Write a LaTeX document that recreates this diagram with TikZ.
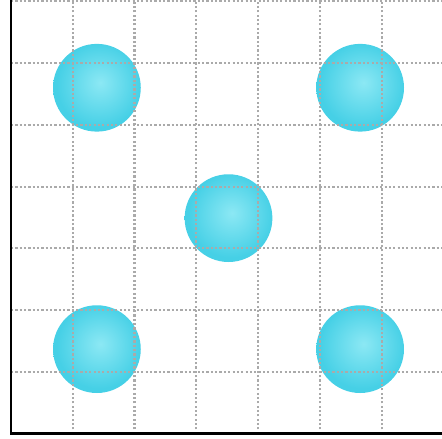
\documentclass[tikz,border=0pt]{standalone}
\usepackage{tikz}
\definecolor{balllight}{RGB}{140,232,244}
\definecolor{ballmid}{RGB}{70,208,230}
\definecolor{balldark}{RGB}{50,182,212}
\definecolor{gridgray}{RGB}{170,170,170}
\pgfdeclareradialshading{cyanball}{\pgfpoint{2bp}{3bp}}{color(0bp)=(balllight); color(24bp)=(ballmid); color(42bp)=(ballmid); color(50bp)=(balldark)}
\tikzset{
	ball/.style={circle, minimum size=1.42cm, inner sep=0pt, shading=cyanball},
	gridline/.style={gridgray, densely dotted, line width=1pt},
	axisline/.style={black, line width=1.3pt}
}

\begin{document}
\begin{tikzpicture}
			\useasboundingbox (-0.178,-0.081) rectangle (6.975,7.02);
			% five spheres
			\node[ball] (tl) at (1.39,5.6) {};
			\node[ball] (tr) at (5.65,5.6) {};
			\node[ball] (mid) at (3.52,3.49) {};
			\node[ball] (bl) at (1.39,1.37) {};
			\node[ball] (br) at (5.65,1.37) {};
			% grid on top, then the axes
			\draw[gridline, step=1] (0,0) grid (7,7);
			\draw[axisline] (0,7.1) -- (0,0) -- (7.1,0);
		\end{tikzpicture}
\end{document}
